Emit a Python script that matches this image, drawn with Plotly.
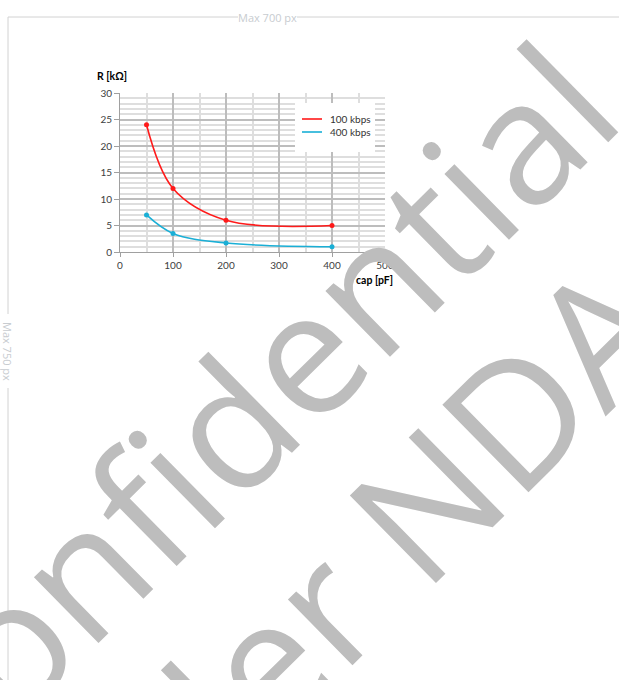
import plotly.graph_objects as go

# ---- data ----
cap_pf = [50, 100, 200, 400]
r_100kbps = [24, 12, 6, 5]
r_400kbps = [7, 3.5, 1.7, 1.0]
series_names = ["100 kbps", "400 kbps"]
series_colors = ["#ff1a1a", "#1aafd6"]
x_ticks = [0, 100, 200, 300, 400, 500]
y_ticks = [0, 5, 10, 15, 20, 25, 30]

W, H = 619, 680
OFF = 0  # body margin removed below, figure origin at screen (0, 0)
PL, PR, PT, PB = 120, 385, 93, 252  # plot area in screen pixels


def px(x):
    return (x - PL) / (PR - PL)


def py(y):
    return (PB - y) / (PB - PT)


fig = go.Figure()
for name, vals, col in zip(series_names, [r_100kbps, r_400kbps], series_colors):
    fig.add_trace(go.Scatter(x=cap_pf, y=vals, mode="lines", name=name, showlegend=False,
                             line=dict(color=col, width=1.6, shape="spline", smoothing=1.0)))
    fig.add_trace(go.Scatter(x=cap_pf, y=vals, mode="markers", name=name, showlegend=False,
                             marker=dict(color=col, size=5)))

tickfont = dict(family="Lato, Carlito, sans-serif", size=10, color="#404040")

fig.update_xaxes(range=[0, 500], tickvals=x_ticks, ticktext=[str(v) for v in x_ticks],
                 showgrid=True, gridcolor="#bdbdbd", gridwidth=1.5,
                 minor=dict(dtick=50, tick0=0, showgrid=True, gridcolor="#dedede", gridwidth=1.5),
                 showline=True, linecolor="#a0a0a0", linewidth=1,
                 ticks="outside", ticklen=4, tickcolor="#a0a0a0",
                 zeroline=False, tickfont=tickfont, fixedrange=True)
fig.update_yaxes(range=[0, 30], tickvals=y_ticks, ticktext=[str(v) for v in y_ticks],
                 showgrid=True, gridcolor="#bdbdbd", gridwidth=1.5,
                 minor=dict(dtick=1, tick0=0, showgrid=True, gridcolor="#dedede", gridwidth=1.5),
                 showline=True, linecolor="#a0a0a0", linewidth=1,
                 ticks="outside", ticklen=5, tickcolor="#a0a0a0",
                 zeroline=False, tickfont=tickfont, fixedrange=True)

annotations = []
for text, sx, sy in [("<b>R [kΩ]</b>", 112, 76), ("<b>cap [pF]</b>", 374, 280)]:
    annotations.append(dict(text=text, x=px(sx), y=py(sy), xref="paper", yref="paper",
                            showarrow=False, xanchor="center", yanchor="middle",
                            font=dict(family="Lato, Carlito, sans-serif", size=10.5, color="#000000")))

# legend (drawn compactly as in the reference)
shapes = [dict(type="rect", xref="paper", yref="paper", layer="above",
               x0=px(295), x1=px(375), y0=py(103), y1=py(152),
               fillcolor="white", line=dict(width=0))]
for i, (name, col) in enumerate(zip(series_names, series_colors)):
    ly = 119 + 13 * i
    shapes.append(dict(type="line", xref="paper", yref="paper", layer="above",
                       x0=px(302), x1=px(322), y0=py(ly), y1=py(ly),
                       line=dict(color=col, width=1.6)))
    annotations.append(dict(text=name, x=px(328), y=py(ly), xref="paper", yref="paper",
                            showarrow=False, xanchor="left", yanchor="middle",
                            font=dict(family="Lato, Carlito, sans-serif", size=10, color="#333333")))

frame_font = dict(family="Open Sans, sans-serif", size=11, color="#c8ccd0")
annotations.append(dict(text="Max 700 px", x=px(267), y=py(17), xref="paper", yref="paper",
                        showarrow=False, xanchor="center", yanchor="middle", font=frame_font))
annotations.append(dict(text="Max 750 px", x=px(8), y=py(351), xref="paper", yref="paper",
                        showarrow=False, xanchor="center", yanchor="middle", textangle=90,
                        font=frame_font))

wm_font = dict(family="Open Sans, sans-serif", size=172, color="#bdbdbd", weight=400)
annotations.append(dict(text="Confidential", x=px(236), y=py(414), xref="paper", yref="paper",
                        showarrow=False, xanchor="center", yanchor="middle", textangle=-44.5,
                        font=wm_font))
annotations.append(dict(text="Under NDA", x=px(311), y=py(612), xref="paper", yref="paper",
                        showarrow=False, xanchor="center", yanchor="middle", textangle=-44.5,
                        font=wm_font))

line_style = dict(color="#d2d2d2", width=1)
shapes += [
    dict(type="line", xref="paper", yref="paper", x0=px(8), x1=px(238), y0=py(17), y1=py(17), line=line_style),
    dict(type="line", xref="paper", yref="paper", x0=px(297), x1=px(630), y0=py(17), y1=py(17), line=line_style),
    dict(type="line", xref="paper", yref="paper", x0=px(8), x1=px(8), y0=py(17), y1=py(314), line=line_style),
    dict(type="line", xref="paper", yref="paper", x0=px(8), x1=px(8), y0=py(388), y1=py(700), line=line_style),
]

fig.update_layout(
    width=W, height=H,
    margin=dict(l=PL - OFF, r=W - (PR - OFF), t=PT - OFF, b=H - (PB - OFF), pad=0),
    paper_bgcolor="white", plot_bgcolor="white",
    showlegend=False,
    annotations=annotations,
    shapes=shapes,
)

fig.write_html("out.html", config={"displayModeBar": False},
               post_script="document.body.style.margin='0';")
